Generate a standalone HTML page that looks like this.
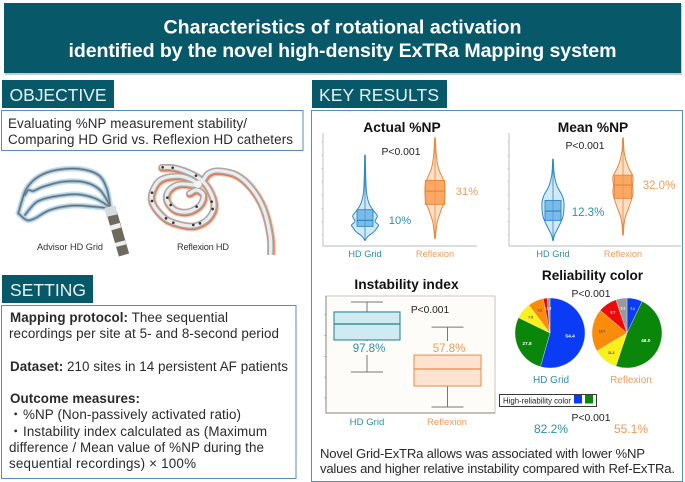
<!DOCTYPE html>
<html lang="en">
<head>
<meta charset="utf-8">
<title>Characteristics of rotational activation</title>
<style>
html,body{margin:0;padding:0;background:#fff;width:685px;height:482px;overflow:hidden}
svg{display:block;font-family:"Liberation Sans","Noto Sans CJK JP",sans-serif}
</style>
</head>
<body>
<svg id="root" xmlns="http://www.w3.org/2000/svg" width="685" height="482" viewBox="0 0 685 482">
  <rect x="5" y="4" width="677" height="71" fill="#c4ccd0"/>
  <rect x="4" y="3" width="677" height="70" fill="#07596a"/>
  <text x="342.5" y="33.500" text-anchor="middle" fill="#fff" font-size="19.6" font-weight="700" textLength="358" lengthAdjust="spacing">Characteristics of rotational activation</text>
  <text x="342.5" y="57" text-anchor="middle" fill="#fff" font-size="19.6" font-weight="700" textLength="548" lengthAdjust="spacing">identified by the novel high-density ExTRa Mapping system</text>

  <rect x="2" y="80" width="112" height="28" fill="#07596a"/>
  <text x="9.500" y="101" fill="#e8f2f4" font-size="17.500" textLength="97">OBJECTIVE</text>
  <rect x="1.500" y="110.500" width="301.500" height="40" fill="#fff" stroke="#5b8db0" stroke-width="1"/>
  <text x="8" y="128" fill="#2a2a2a" font-size="13.4" textLength="239">Evaluating %NP measurement stability/</text>
  <text x="8" y="144" fill="#2a2a2a" font-size="13.4" textLength="285">Comparing HD Grid vs. Reflexion HD catheters</text>

  <g id="catheters"></g>
  <text x="37" y="250" fill="#333" font-size="9.200" textLength="66">Advisor HD Grid</text>
  <text x="177" y="250" fill="#333" font-size="9.200" textLength="52">Reflexion HD</text>

  <rect x="2" y="275" width="91" height="28" fill="#07596a"/>
  <text x="10" y="296" fill="#e8f2f4" font-size="17.500" textLength="76">SETTING</text>
  <rect x="1.500" y="305.500" width="294.500" height="173" fill="#fff" stroke="#5b8db0" stroke-width="1"/>
  <g font-size="13.4" fill="#2a2a2a">
    <text x="10" y="322" textLength="218"><tspan font-weight="700">Mapping protocol:</tspan> Thee sequential</text>
    <text x="9" y="338" textLength="270">recordings per site at 5- and 8-second period</text>
    <text x="10" y="371" textLength="278"><tspan font-weight="700">Dataset:</tspan> 210 sites in 14 persistent AF patients</text>
    <text x="10" y="403" font-weight="700" textLength="130">Outcome measures:</text>
    <text x="9" y="419">・</text>
    <text x="23" y="419" textLength="218">%NP (Non-passively activated ratio)</text>
    <text x="9" y="436">・</text>
    <text x="23" y="436" textLength="244">Instability index calculated as (Maximum</text>
    <text x="9" y="452" textLength="255">difference / Mean value of %NP during the</text>
    <text x="9" y="468" textLength="187">sequential recordings) × 100%</text>
  </g>

  <rect x="312" y="80" width="135" height="28" fill="#07596a"/>
  <text x="319" y="101" fill="#e8f2f4" font-size="17.500" textLength="120">KEY RESULTS</text>
  <rect x="311.500" y="110.500" width="371" height="371" fill="#fff" stroke="#5b8db0" stroke-width="1"/>

  <g id="charts"></g>

  <text x="320" y="458" fill="#2a2a2a" font-size="13.100" textLength="325">Novel Grid-ExTRa allows was associated with lower %NP</text>
  <text x="320" y="473" fill="#2a2a2a" font-size="13.100" textLength="355">values and higher relative instability compared with Ref-ExTRa.</text>
</svg>
<script>
// Violin charts (values in %NP, density as half-width)
const groupLabels = ['HD Grid', 'Reflexion'];
const violinTicks = [0, 10, 20, 30, 40, 50, 60, 70];

const actualGridValues = [-4, -1, 2.5, 5.5, 7.5, 10.3, 14.3, 18.8, 23.8, 31.3, 43.8, 60];
const actualGridDensity = [0.3, 3, 9, 12, 13.5, 10, 12.3, 8, 4, 1.6, 0.7, 0.3];
const actualGridQuartiles = [6.5, 11, 19];
const actualReflexValues = [-2.5, 9, 14, 19.5, 24, 30, 38, 43, 49, 56, 63, 73];
const actualReflexDensity = [0.3, 2, 4, 6.5, 9, 10, 9.7, 7.5, 4, 2, 1, 0.3];
const actualReflexQuartiles = [23, 33, 41];

const meanGridValues = [-4, 0, 6, 14, 24, 30, 36, 44, 50, 57];
const meanGridDensity = [0.3, 1.5, 5.5, 10, 11, 9, 4.5, 1.5, 0.7, 0.3];
const meanGridQuartiles = [11, 18, 26];
const meanReflexValues = [0, 8, 14, 21, 31, 37, 44, 50, 56, 63, 73];
const meanReflexDensity = [0.3, 1, 2.5, 6, 10, 9.5, 10, 6, 3, 1, 0.3];
const meanReflexQuartiles = [27.5, 37.5, 45];

// Box plot (instability index)
const instabilityTicks = [32, 50.5, 69, 87.5, 106];
const gridBoxStats = [55.1, 83.6, 97.8, 108.5, 117.4];
const reflexBoxStats = [24, 42.7, 57.8, 70.2, 95];

// Pie charts (percent)
const pieColors = ['#0a3cf5', '#0a860a', '#fbf01a', '#fb8c0a', '#ee0a0a', '#9a9a9a'];
const gridPieValues = [54.4, 27.8, 7.5, 7.2, 1.8, 1.3];
const reflexPieValues = [7.1, 48.0, 11.3, 19.7, 8.7, 5.1];
const highReliability = ['82.2%', '55.1%'];

const NS = 'http://www.w3.org/2000/svg';
const charts = document.getElementById('charts');
const catheters = document.getElementById('catheters');
const BLUE = '#2b88c0', ORANGE = '#e8873a', TEAL = '#2f8ea6', LORANGE = '#ef9c58';

function make(tag, parent, attrs, txt) {
  const el = document.createElementNS(NS, tag);
  for (const k in attrs) el.setAttribute(k, attrs[k]);
  if (txt !== undefined) el.textContent = txt;
  parent.appendChild(el);
  return el;
}
function group(name) {
  const g = document.createElementNS(NS, 'g');
  
  
  charts.appendChild(g);
  return g;
}
function label(parent, name, x, y, str, size, fill, anchor, weight) {
  const t = make('text', parent, {x: x, y: y, 'font-size': size, fill: fill, 'text-anchor': anchor || 'middle', 'font-weight': weight || 400}, str);
  
  
  return t;
}
function smooth(pts) {
  let d = 'M' + pts[0][0] + ' ' + pts[0][1];
  for (let i = 0; i < pts.length - 1; i++) {
    const p0 = pts[Math.max(i - 1, 0)], p1 = pts[i], p2 = pts[i + 1], p3 = pts[Math.min(i + 2, pts.length - 1)];
    d += 'C' + (p1[0] + (p2[0] - p0[0]) / 6) + ' ' + (p1[1] + (p2[1] - p0[1]) / 6) + ' ' +
         (p2[0] - (p3[0] - p1[0]) / 6) + ' ' + (p2[1] - (p3[1] - p1[1]) / 6) + ' ' + p2[0] + ' ' + p2[1];
  }
  return d;
}

// Catheter illustrations
const gridArms = [
  [[300,150],[290,100],[265,60],[210,42],[140,45],[85,65],[50,100],[35,140],[25,175]],
  [[300,152],[270,105],[225,82],[160,80],[100,95],[70,108],[55,105],[45,120]],
  [[298,155],[255,130],[200,118],[130,125],[85,138],[65,155],[45,180]],
  [[298,160],[250,155],[185,152],[120,165],[75,190],[50,195],[25,175]]
];
const reflexShaft = [[392,300],[390,240],[370,160],[335,100],[290,60],[235,47],[205,55],[190,75]];
const reflexSpiral = [[65,37],[100,38],[140,50],[175,68],[205,100],[222,150],[205,190],[165,212],[120,208],[75,190],[40,150],[35,115],[60,75],[110,63],[150,72],[172,90],[120,87],[87,105],[80,135],[105,165],[145,170],[180,150],[190,120],[170,105],[148,115]];
const reflexMarkers = [[68,37],[98,38],[168,62],[36,113],[36,138],[82,128],[92,150],[170,155],[215,140],[218,162],[180,205],[160,210],[100,203],[78,190]];

const gridG = make('g', catheters, {fill: 'none', 'stroke-linecap': 'round', transform: 'translate(10,155) scale(.3333)'});


gridArms.forEach(a => make('path', gridG, {d: smooth(a), stroke: '#bfe0f4', 'stroke-width': 17}));
gridArms.forEach(a => make('path', gridG, {d: smooth(a), stroke: '#8fa3b0', 'stroke-width': 8}));
gridArms.forEach(a => make('path', gridG, {d: smooth(a), stroke: '#5e6c76', 'stroke-width': 3}));
make('path', gridG, {d: 'M305 172L342 300', stroke: '#6e6a5e', 'stroke-width': 32, 'stroke-linecap': 'butt'});
make('path', gridG, {d: 'M300 155L306 182', stroke: '#d5dde2', 'stroke-width': 34, 'stroke-linecap': 'butt'});
make('path', gridG, {d: 'M314 208L318 222M330 260L333 272', stroke: '#eeeeea', 'stroke-width': 32, 'stroke-linecap': 'butt'});

const reflexG = make('g', catheters, {fill: 'none', 'stroke-linecap': 'round', 'stroke-linejoin': 'round', transform: 'translate(140,155) scale(.3333)'});


[reflexShaft, reflexSpiral].forEach(p => make('path', reflexG, {d: smooth(p), stroke: '#f9c2ac', 'stroke-width': 26, transform: 'translate(2,3)'}));
[reflexShaft, reflexSpiral].forEach(p => make('path', reflexG, {d: smooth(p), stroke: '#ee6a3c', 'stroke-width': 21, transform: 'translate(1,2)'}));
[reflexShaft, reflexSpiral].forEach(p => make('path', reflexG, {d: smooth(p), stroke: '#a8a8a8', 'stroke-width': 19}));
[reflexShaft, reflexSpiral].forEach(p => make('path', reflexG, {d: smooth(p), stroke: '#ececec', 'stroke-width': 10}));
reflexMarkers.forEach(m => make('circle', reflexG, {cx: m[0], cy: m[1], r: 4, fill: '#333', stroke: 'none'}));
make('circle', reflexG, {cx: 174, cy: 88, r: 11, fill: '#f4f4f4', stroke: 'none'});
make('rect', reflexG, {x: 340, y: 300, width: 80, height: 20, fill: '#fff', stroke: 'none'});

const violinY = v => 235 - 1.33 * v;

function violin(g, name, cx, values, density, quart, boxHalf, color, fill, boxFill) {
  const right = values.map((v, i) => [cx + density[i], violinY(v)]);
  const left = values.map((v, i) => [cx - density[i], violinY(v)]);
  const d = smooth(right) + ' ' + smooth(left.reverse()).replace('M', 'L') + 'Z';
  const body = make('path', g, {d: d, fill: fill, stroke: color, 'stroke-width': 1});
  
  
  make('line', g, {x1: cx, x2: cx, y1: violinY(values[0]), y2: violinY(values[values.length - 1]), stroke: color, 'stroke-width': 0.8});
  const box = make('rect', g, {x: cx - boxHalf, width: boxHalf * 2, y: violinY(quart[2]), height: violinY(quart[0]) - violinY(quart[2]), fill: boxFill, stroke: color, 'stroke-width': 0.9});
  
  
  const med = make('line', g, {x1: cx - boxHalf, x2: cx + boxHalf, y1: violinY(quart[1]), y2: violinY(quart[1]), stroke: color, 'stroke-width': 1.2});
  
  
}
function violinAxes(g, left, right) {
  make('path', g, {d: 'M' + left + ' 133V246H' + right, fill: 'none', stroke: '#b4bcc2', 'stroke-width': 0.9});
  violinTicks.forEach(t => make('line', g, {x1: left - 1.5, x2: left, y1: violinY(t), y2: violinY(t), stroke: '#b4bcc2', 'stroke-width': 0.7}));
}
const gridFill = 'rgba(140,195,232,.38)', gridBox = 'rgba(80,165,225,.68)';
const reflexFill = 'rgba(247,180,120,.42)', reflexBox = 'rgba(250,150,70,.75)';

// Actual %NP
const g1 = group('actual-np-chart');
label(g1, 'actual-np-title', 402, 132, 'Actual %NP', 13.8, '#111', 'middle', 700);
violinAxes(g1, 323, 477);
violin(g1, 'actual-hd-grid', 365, actualGridValues, actualGridDensity, actualGridQuartiles, 8, BLUE, gridFill, gridBox);
violin(g1, 'actual-reflexion', 435, actualReflexValues, actualReflexDensity, actualReflexQuartiles, 9.7, ORANGE, reflexFill, reflexBox);
label(g1, 'actual-p-value', 401, 155, 'P<0.001', 10.4, '#222');
label(g1, 'actual-hd-grid-value', 400, 224, '10%', 11.2, TEAL);
label(g1, 'actual-reflexion-value', 467, 195, '31%', 11.2, LORANGE);
label(g1, 'actual-hd-grid-tick', 365, 257, groupLabels[0], 9.2, TEAL);
label(g1, 'actual-reflexion-tick', 435, 257, groupLabels[1], 9.2, LORANGE);

// Mean %NP
const g2 = group('mean-np-chart');
label(g2, 'mean-np-title', 593, 132, 'Mean %NP', 13.8, '#111', 'middle', 700);
violinAxes(g2, 509, 681);
violin(g2, 'mean-hd-grid', 553, meanGridValues, meanGridDensity, meanGridQuartiles, 8, BLUE, gridFill, gridBox);
violin(g2, 'mean-reflexion', 623, meanReflexValues, meanReflexDensity, meanReflexQuartiles, 8.7, ORANGE, reflexFill, reflexBox);
label(g2, 'mean-p-value', 585, 149, 'P<0.001', 10.4, '#222');
label(g2, 'mean-hd-grid-value', 588, 216, '12.3%', 11.5, TEAL);
label(g2, 'mean-reflexion-value', 659, 189, '32.0%', 11.5, LORANGE);
label(g2, 'mean-hd-grid-tick', 553, 257, groupLabels[0], 9.2, TEAL);
label(g2, 'mean-reflexion-tick', 623, 257, groupLabels[1], 9.2, LORANGE);

// Instability index
const g3 = group('instability-chart');
label(g3, 'instability-title', 406.500, 289, 'Instability index', 13.8, '#111', 'middle', 700);
const frame = make('rect', g3, {x: 326, y: 296, width: 169, height: 117, fill: '#fdfcf8', stroke: '#b8b8b2', 'stroke-width': 0.8});


make('path', g3, {d: 'M326 296V413H495', fill: 'none', stroke: '#85857f', 'stroke-width': 1});
const boxY = v => 324 + (97.8 - v) * 1.125;
instabilityTicks.forEach(t => make('line', g3, {x1: 324.5, x2: 326, y1: boxY(t), y2: boxY(t), stroke: '#8a8a84', 'stroke-width': 0.8}));
function boxPlot(name, cx, stats, stroke, fill, bw) {
  const wh = '#777';
  make('line', g3, {x1: cx, x2: cx, y1: boxY(stats[4]), y2: boxY(stats[0]), stroke: wh, 'stroke-width': 1});
  make('line', g3, {x1: cx - 16, x2: cx + 16, y1: boxY(stats[4]), y2: boxY(stats[4]), stroke: wh, 'stroke-width': 1});
  make('line', g3, {x1: cx - 16, x2: cx + 16, y1: boxY(stats[0]), y2: boxY(stats[0]), stroke: wh, 'stroke-width': 1});
  const b = make('rect', g3, {x: cx - bw, width: bw * 2, y: boxY(stats[3]), height: boxY(stats[1]) - boxY(stats[3]), fill: fill, stroke: stroke, 'stroke-width': 1});
  
  
  const m = make('line', g3, {x1: cx - bw, x2: cx + bw, y1: boxY(stats[2]), y2: boxY(stats[2]), stroke: stroke, 'stroke-width': 1.2});
  
  
}
boxPlot('instability-hd-grid', 367, gridBoxStats, '#1d7f8c', '#cfeaf0', 33);
boxPlot('instability-reflexion', 447.5, reflexBoxStats, '#ec8a45', '#fde3d0', 33.5);
make('rect', g3, {x: 350, y: 341, width: 38, height: 14, fill: '#fdfcf8'});
make('rect', g3, {x: 431, y: 341, width: 36, height: 13.5, fill: '#fdfcf8'});
label(g3, 'instability-hd-grid-value', 369, 352, '97.8%', 11.5, TEAL);
label(g3, 'instability-reflexion-value', 449, 352, '57.8%', 11.5, LORANGE);
label(g3, 'instability-p-value', 430, 313, 'P<0.001', 10.2, '#222');
label(g3, 'instability-hd-grid-tick', 367, 425, groupLabels[0], 9.6, TEAL);
label(g3, 'instability-reflexion-tick', 447, 425, groupLabels[1], 9.6, LORANGE);

// Reliability pies
const g4 = group('reliability-chart');
label(g4, 'reliability-title', 592.500, 280, 'Reliability color', 13.6, '#111', 'middle', 700);
label(g4, 'reliability-p-value', 591, 297, 'P<0.001', 10.4, '#222');
function pie(name, cx, cy, r, values) {
  const total = values.reduce((a, b) => a + b, 0);
  let a = 0;
  values.forEach((v, i) => {
    const a2 = a + v / total * Math.PI * 2;
    const big = a2 - a > Math.PI ? 1 : 0;
    const d = 'M' + cx + ' ' + cy + 'L' + (cx + r * Math.sin(a)) + ' ' + (cy - r * Math.cos(a)) +
      'A' + r + ' ' + r + ' 0 ' + big + ' 1 ' + (cx + r * Math.sin(a2)) + ' ' + (cy - r * Math.cos(a2)) + 'Z';
    const s = make('path', g4, {d: d, fill: pieColors[i], stroke: '#dfe6e6', 'stroke-width': 0.4});
    
    
    const mid = (a + a2) / 2, lr = v > 30 ? r * 0.58 : r * 0.72;
    const dark = i === 2 || i === 3;
    label(g4, name + '-slice-value', cx + lr * Math.sin(mid), cy - lr * Math.cos(mid) + 1.5, v.toFixed(1), v > 20 ? 4.8 : 3.4, dark ? '#444' : '#fff', 'middle', 700);
    a = a2;
  });
}
pie('hd-grid-pie', 550, 333, 35, gridPieValues);
pie('reflexion-pie', 627, 333, 35, reflexPieValues);
label(g4, 'hd-grid-pie-label', 551, 383, groupLabels[0], 10, TEAL);
label(g4, 'reflexion-pie-label', 631, 383, groupLabels[1], 10, LORANGE);
const legendBox = make('rect', g4, {x: 499.500, y: 394.500, width: 97, height: 12, fill: '#fff', stroke: '#222', 'stroke-width': 0.9});


label(g4, 'legend-text', 503, 403.500, 'High-reliability color', 7.8, '#222', 'start');
make('rect', g4, {x: 574, y: 395, width: 8, height: 8.5, fill: pieColors[0]});
make('rect', g4, {x: 585, y: 395, width: 8, height: 8.5, fill: pieColors[1]});
label(g4, 'high-reliability-p-value', 591, 421, 'P<0.001', 10.4, '#222');
label(g4, 'hd-grid-high-reliability', 551, 433, highReliability[0], 12, TEAL);
label(g4, 'reflexion-high-reliability', 631, 433, highReliability[1], 12, LORANGE);
</script>
</body>
</html>
